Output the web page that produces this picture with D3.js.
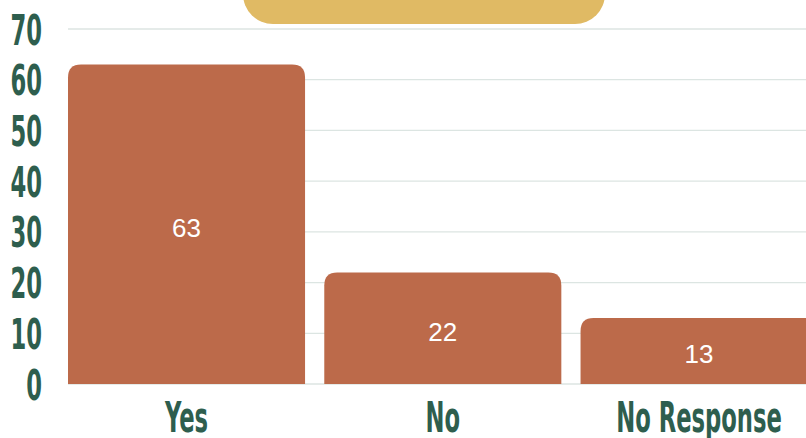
<!DOCTYPE html>
<html><head><meta charset="utf-8">
<script src="https://cdn.jsdelivr.net/npm/d3@7"></script>
<style>
html,body{margin:0;padding:0;background:#fff;overflow:hidden;}
svg{display:block;}
</style></head>
<body><svg id="c" width="806" height="438"></svg>
<script>
const categories = ["Yes", "No", "No Response"];
const values = [63, 22, 13];
const yTicks = [0, 10, 20, 30, 40, 50, 60, 70];

const W = 806, H = 438;
const svg = d3.select("#c");
const green = "#2E5E4E", bar = "#BC6A4A", gold = "#E0BA64", grid = "#DCE5E2";
const condFont = "'Liberation Sans Narrow','DejaVu Sans Condensed','Arial Narrow',sans-serif";
const sx = 0.6;

const x = d3.scaleBand().domain(categories).range([68, 817.6]).paddingInner(0.075).paddingOuter(0);
const y = d3.scaleLinear().domain([0, 70]).range([384, 29]);

// title box (cut off at top)
svg.append("rect").attr("x", 243).attr("y", -60).attr("width", 362).attr("height", 84)
  .attr("rx", 30).attr("fill", gold);

// grid
svg.append("g").selectAll("line").data(yTicks).join("line")
  .attr("x1", 68).attr("x2", W).attr("y1", d => y(d)).attr("y2", d => y(d))
  .attr("stroke", grid).attr("stroke-width", 1.3);

// bars with rounded top corners
const r = 13;
function topRounded(x0, y0, w, h, r) {
  r = Math.min(r, h, w / 2);
  return `M${x0},${y0 + h}V${y0 + r}Q${x0},${y0} ${x0 + r},${y0}H${x0 + w - r}Q${x0 + w},${y0} ${x0 + w},${y0 + r}V${y0 + h}Z`;
}
svg.append("g").selectAll("path").data(values).join("path")
  .attr("d", (d, i) => topRounded(x(categories[i]), y(d), x.bandwidth(), y(0) - y(d), r))
  .attr("fill", bar);

// value labels
svg.append("g").selectAll("text").data(values).join("text")
  .attr("x", (d, i) => x(categories[i]) + x.bandwidth() / 2)
  .attr("y", d => (y(d) + y(0)) / 2 + 3)
  .attr("dy", "0.36em")
  .attr("text-anchor", "middle")
  .attr("font-family", "'Liberation Sans',Arial,sans-serif")
  .attr("font-size", 26).attr("fill", "#fff")
  .text(d => d);

// y axis labels
const yAxis = d3.axisLeft(y).tickValues(yTicks).tickSize(0).tickPadding(0);
const gy = svg.append("g").attr("transform", "translate(42,0)").call(yAxis);
gy.select(".domain").remove();
gy.selectAll("text")
  .attr("font-family", condFont).attr("font-weight", "bold").attr("font-size", 42)
  .attr("fill", green).attr("dy", "0.36em").attr("x", 0)
  .attr("transform", `scale(${sx},1)`);

// x axis labels
const xAxis = d3.axisBottom(x).tickSize(0).tickPadding(0);
const gx = svg.append("g").attr("transform", "translate(0,432)").call(xAxis);
gx.select(".domain").remove();
gx.selectAll("text")
  .attr("font-family", condFont).attr("font-weight", "bold").attr("font-size", 42)
  .attr("fill", green).attr("dy", 0).attr("y", 0)
  .attr("transform", `scale(${sx},1)`);
</script></body></html>
